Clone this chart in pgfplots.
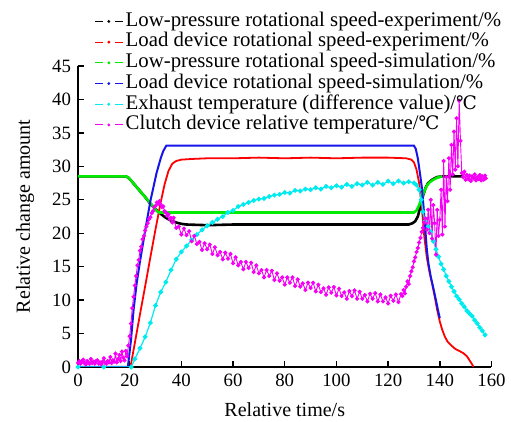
\documentclass[border=0pt]{standalone}
\usepackage{fontspec}
\setmainfont{Liberation Serif}
\newfontfamily\degfont{DejaVu Serif}
\usepackage{pgfplots}
\pgfplotsset{compat=1.18}
\newcommand{\cel}{{\degfont\fontsize{9.3}{10}\selectfont ℃}}
\definecolor{lpexp}{RGB}{0,0,0}
\definecolor{ldexp}{RGB}{255,0,0}
\definecolor{lpsim}{RGB}{0,235,0}
\definecolor{ldsim}{RGB}{20,20,235}
\definecolor{exh}{RGB}{0,235,240}
\definecolor{clt}{RGB}{245,0,245}

\begin{document}
\fontsize{10}{11}\selectfont
\begin{tikzpicture}
\begin{axis}[at={(0,0)},anchor=south west,scale only axis,
  width=206.75pt,height=150.5pt,
  xmin=0,xmax=160,ymin=0,ymax=45,
  axis lines=left,axis line style={-,line width=0.7pt},
  xtick={0,20,...,160},ytick={0,5,...,45},
  tick align=inside,major tick length=3pt,tick style={black,line width=0.7pt},
  /pgf/number format/assume math mode=true,
  tick label style={font=\fontsize{9.4}{10}\selectfont},
  xlabel={Relative time/s},ylabel={Relative change amount},
  every axis x label/.style={at={(axis description cs:0.5,-0.143)},anchor=center},
  every axis y label/.style={at={(axis description cs:-0.128,0.5)},rotate=90,anchor=center},
  legend style={draw=none,fill=none,at={(axis description cs:0.024,1.197)},anchor=north west,
    row sep=0pt,column sep=0pt,font=\fontsize{10.4}{11}\selectfont,
    nodes={inner xsep=1.2pt,inner ysep=0pt,text height=7.6pt,text depth=2.75pt}},
  legend cell align=left,
  legend image code/.code={\draw[#1,line width=0.5pt,dash pattern=on 4pt off 6pt] (0pt,0pt) -- (14pt,0pt);
    \fill[#1,draw=none] (7pt,0pt) circle (0.8pt);},
]
% low-pressure speed, experiment
\addplot[lpexp,line width=1.3pt] coordinates {
(0,28.5) (5,28.5) (10,28.5) (15,28.5) (18.5,28.5) (19.5,28.3) (20.5,27.9) (22,27.2) (24,26.3)
(26,25.4) (27,24.9) (28,24.4) (30,23.6) (32,22.9) (34,22.3) (36,21.9) (38,21.6) (40,21.4)
(42,21.3) (50,21.2) (60,21.3) (70,21.3) (80,21.3) (90,21.3) (100,21.3) (110,21.3) (120,21.3)
(128,21.3) (129.5,21.5) (130.5,21.8) (131.5,22.5) (132.5,24.0) (133.5,25.6) (134.5,26.8)
(135.5,27.5) (137,28.0) (139,28.4) (141,28.5) (145,28.5) (149,28.5)};
\addlegendentry{Low-pressure rotational speed-experiment/\%}
% load device speed, experiment
\addplot[ldexp,line width=0.9pt] coordinates {
(0,0) (10,0) (20.3,0) (22,3.6) (24,7.9) (26,12.1) (28,16.4) (30,20.6) (32,24.6) (33.5,27.3)
(35,29.3) (36.5,30.4) (38,30.8) (40,31.0) (44,31.1) (50,31.2) (60,31.2) (70,31.3) (80,31.2)
(90,31.3) (100,31.2) (110,31.3) (120,31.3) (127,31.2) (129,31.0) (130,30.6) (131,29.5)
(132,27.5) (133,24.0) (134,19.5) (135,16.3) (136,14.2) (137,12.5) (138,10.6) (139,8.5)
(140,6.8) (141,5.5) (142,4.5) (143,3.8) (144.5,3.2) (146,2.7) (147.5,2.4) (149,2.1)
(150.5,1.6) (151.5,1.0) (152.5,0.4) (153,0)};
\addlegendentry{Load device rotational speed-experiment/\%}
% low-pressure speed, simulation
\addplot[lpsim,line width=1.3pt] coordinates {
(0,28.5) (5,28.5) (10,28.5) (15,28.5) (18.5,28.5) (19.5,28.3) (20.5,27.9) (22,27.2) (24,26.3)
(26,25.4) (28,24.5) (29.5,23.8) (30.5,23.3) (31.5,23.1) (33,23.1) (40,23.1) (50,23.1)
(60,23.1) (70,23.1) (80,23.1) (90,23.1) (100,23.1) (110,23.1) (120,23.1) (130,23.1)
(131,23.4) (132,24.2) (133,25.2) (134,26.3) (135,27.1) (136,27.6) (137.5,28.0) (139,28.3)
(141,28.5)};
\addlegendentry{Low-pressure rotational speed-simulation/\%}
% load device speed, simulation
\addplot[ldsim,line width=1pt] coordinates {
(0,0) (10,0) (19.3,0) (20.5,4.0) (21.5,8.5) (22.7,12.5) (24,15.8) (25.9,20.2) (28,24.8)
(30.4,29.0) (32,31.2) (33,32.3) (34.2,33.1) (40,33.1) (50,33.1) (60,33.1) (70,33.1)
(80,33.1) (90,33.1) (100,33.1) (110,33.1) (120,33.1) (130,33.1) (130.7,32.6) (131.5,31.2)
(132.3,29.0) (133,27.0) (133.7,24.0) (134.3,21.0) (135,17.5) (135.6,15.5) (136.5,13.5)
(137.5,11.8) (138.5,10.0) (139.3,8.5) (140,7.3)};
\addlegendentry{Load device rotational speed-simulation/\%}
% exhaust temperature
\addplot[exh,line width=0.6pt,mark=*,mark size=0.9pt] coordinates {
(0,0) (10,0) (20.6,0) (22,1.2) (24,2.8) (26,4.5) (28,6.6) (30,9.2) (32,11.2) (34,12.7)
(36,14.5) (38,16.1) (40,17.2) (42,18.1) (44,19.0) (46,19.8) (48,20.5) (50,21.1) (52,21.6)
(54,22.1) (56,22.5) (58,23.1) (60,23.4) (62,24.0) (64,24.3) (66,24.6) (68,24.9) (70,25.1)
(72,25.2) (74,25.5) (76,25.7) (78,25.8) (80,26.1) (82,26.0) (84,26.4) (86,26.3) (88,26.6)
(90,26.5) (92,26.8) (94,26.6) (96,27.0) (98,26.8) (100,27.1) (102,26.9) (104,27.3)
(106,27.0) (108,27.4) (110,27.2) (112,27.6) (114,27.2) (116,27.6) (118,27.3) (120,27.8)
(122,27.4) (124,27.8) (126,27.5) (128,27.7) (130,27.5) (131,27.2) (132,26.5) (132.8,25.0)
(133.5,23.2) (134.3,21.8) (135.5,21.0) (136.5,20.2) (137.5,18.8) (138.5,17.6) (139.5,16.5)
(140.5,15.4) (141.5,14.6) (142.5,13.6) (143.5,12.8) (144.5,12.0) (145.5,11.3) (146.5,10.6)
(147.5,10.1) (148.5,9.5) (149.5,9.0) (150.5,8.4) (151.5,8.0) (152.5,7.6) (153.5,7.0)
(154.5,6.5) (155.5,5.9) (156.5,5.4) (157.5,4.8)};
\addlegendentry{Exhaust temperature (difference value)/\cel}
% clutch device temperature
\addplot[clt,line width=0.45pt,mark=*,mark size=0.8pt] coordinates {
(0,0.6) (0.5,0.9) (1,0.5) (1.5,0.8) (2,1.1) (2.5,0.6) (3,0.4) (3.5,0.9) (4,0.7) (4.5,0.5)
(5,1.2) (5.5,0.6) (6,0.8) (6.5,0.5) (7,0.9) (7.5,1.0) (8,0.5) (8.5,0.7) (9,0.4) (9.5,0.8)
(10,1.3) (10.5,0.6) (11,0.5) (11.5,0.9) (12,0.7) (12.5,1.5) (13,0.6) (13.5,1.0) (14,0.8)
(14.5,2.0) (15,0.7) (15.5,1.2) (16,1.8) (16.5,0.9) (17,2.3) (17.5,1.4) (18,1.0) (18.5,2.4)
(19,1.6) (19.5,3.2) (20,4.6) (20.5,6.5) (21,8.8) (21.5,10.5) (22,12.2) (22.5,13.6) (23,15.2)
(23.5,16.0) (24,17.4) (24.5,18.0) (25,19.1) (25.5,19.6) (26,20.4) (26.5,21.0) (27,21.5)
(27.5,22.1) (28,22.4) (28.5,23.0) (29,23.3) (29.5,23.9) (30,24.1) (30.5,24.6) (31,24.4)
(31.5,24.8) (32,24.3) (32.5,23.9) (33,24.0) (33.5,23.3) (34,23.1) (34.5,22.6) (35,22.8)
(35.5,22.1) (36,22.3) (36.5,21.6) (37,22.3) (38,20.8) (39,21.0) (40,19.8) (41,20.7) (42,19.7)
(43,20.3) (44,18.8) (45,19.6) (46,18.4) (47,18.7) (48,17.5) (49,18.5) (50,17.6) (51,18.3)
(52,16.9) (53,17.9) (54,16.7) (55,17.2) (56,16.1) (57,17.1) (58,16.2) (59,16.9) (60,15.5)
(61,16.4) (62,15.2) (63,15.7) (64,14.6) (65,15.7) (66,14.8) (67,15.6) (68,14.2) (69,15.2)
(70,14.0) (71,14.5) (72,13.4) (73,14.5) (74,13.6) (75,14.4) (76,13.0) (77,14.0) (78,12.9)
(79,13.4) (80,12.3) (81,13.4) (82,12.6) (83,13.4) (84,12.1) (85,13.1) (86,12.0) (87,12.5)
(88,11.5) (89,12.6) (90,11.8) (91,12.6) (92,11.3) (93,12.3) (94,11.2) (95,11.75) (96,10.8)
(97,11.9) (98,11.1) (99,11.95) (100,10.7) (101,11.7) (102,10.6) (103,11.15) (104,10.2)
(105,11.35) (106,10.6) (107,11.45) (108,10.2) (109,11.25) (110,10.2) (111,10.75) (112,9.8)
(113,10.95) (114,10.2) (115,11.05) (116,9.8) (117,10.85) (118,9.8) (119,10.4) (120,9.5)
(121,10.65) (122,9.9) (123,10.85) (124,9.7) (125,10.9) (125.5,10.6) (126,11.5) (126.5,11.0)
(127,12.0) (127.5,12.8) (128,12.4) (128.5,13.6) (129,14.3) (129.5,14.9) (130,15.8)
(130.5,16.4) (131,17.2) (131.5,17.8) (132,18.6) (132.5,19.3) (133,20.2) (133.5,20.8)
(134,21.6) (134.5,22.2) (135,20.5) (135.5,23.5) (136,20.0) (136.5,25.0) (137,19.2)
(137.5,24.2) (138,21.5) (138.5,16.8) (139,23.5) (139.5,19.6) (140,22.0) (140.5,26.5)
(141,19.8) (141.5,30.8) (142,21.0) (142.5,28.4) (143,24.8) (143.5,31.2) (144,26.5)
(144.5,33.2) (145,28.8) (145.5,35.2) (146,29.5) (146.5,37.2) (147,30.0) (147.5,39.8)
(148,33.8) (148.5,29.0) (149,28.4) (149.5,29.2) (150,28.0) (150.5,28.7) (151,28.1)
(151.5,28.6) (152,27.8) (152.5,28.5) (153,28.2) (153.5,28.8) (154,27.9) (154.5,28.4)
(155,28.1) (155.5,28.7) (156,27.9) (156.5,28.5) (157,28.0) (157.5,28.6) (157.8,28.2)};
\addlegendentry{Clutch device relative temperature/\cel}
\end{axis}
\pgfresetboundingbox
\path[use as bounding box] (-39pt,-27.5pt) rectangle (216.5pt,183.5pt);
\end{tikzpicture}
\end{document}
